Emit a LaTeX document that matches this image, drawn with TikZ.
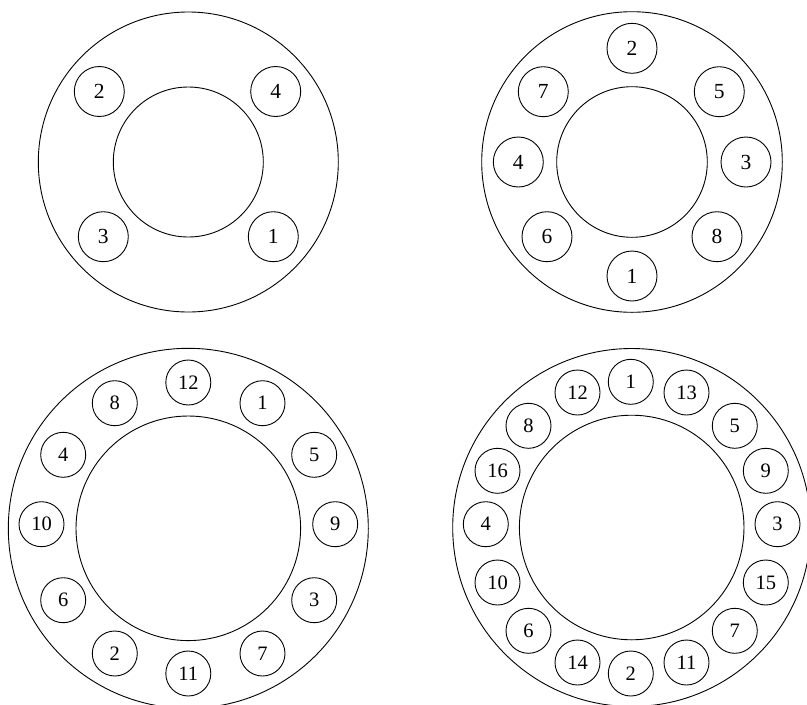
\documentclass[tikz,border=0pt]{standalone}
\usepackage{fontspec}
\setmainfont{Liberation Serif}
\begin{document}
\begin{tikzpicture}[x=1pt,y=-1pt,
  ring/.style={line width=0.9pt},
  bigpin/.style={draw,circle,line width=0.9pt,minimum size=50pt,inner sep=0pt,font=\fontsize{21.5}{25}\selectfont},
  smallpin/.style={draw,circle,line width=0.9pt,minimum size=45pt,inner sep=0pt,font=\fontsize{20.5}{24}\selectfont}]
\clip (0,0) rectangle (807,705);
\fill[white] (0,0) rectangle (807,705);
% top-left
\coordinate (A) at (188.3,162);
\draw[ring] (A) circle (150);
\draw[ring] (A) circle (75);
\node[bigpin] (a2) at (99.3,91.5) {2};
\node[bigpin] (a4) at (275.7,91.5) {4};
\node[bigpin] (a3) at (103.3,236.7) {3};
\node[bigpin] (a1) at (273.3,236.7) {1};
% top-right
\coordinate (B) at (632,162);
\draw[ring] (B) circle (150.3);
\draw[ring] (B) circle (75.3);
\node[bigpin] (b2) at (632,48.3) {2};
\node[bigpin] (b5) at (719.3,91.7) {5};
\node[bigpin] (b3) at (746,162) {3};
\node[bigpin] (b8) at (717,236.7) {8};
\node[bigpin] (b1) at (632,276) {1};
\node[bigpin] (b6) at (547,236.7) {6};
\node[bigpin] (b4) at (518.3,162) {4};
\node[bigpin] (b7) at (543.3,91.7) {7};
% bottom-left
\coordinate (C) at (188.3,528.3);
\draw[ring] (C) circle (180);
\draw[ring] (C) circle (112.3);
\node[smallpin] (c12) at (188.3,382.5) {12};
\node[smallpin] (c1) at (262.5,403.2) {1};
\node[smallpin] (c5) at (314.2,454.8) {5};
\node[smallpin] (c9) at (335.2,524.2) {9};
\node[smallpin] (c3) at (314.2,600.2) {3};
\node[smallpin] (c7) at (262.5,653.5) {7};
\node[smallpin] (c11) at (188.3,673.5) {11};
\node[smallpin] (c2) at (114.8,653.5) {2};
\node[smallpin] (c6) at (63.2,600.2) {6};
\node[smallpin] (c10) at (41.5,524.2) {10};
\node[smallpin] (c4) at (63.2,454.8) {4};
\node[smallpin] (c8) at (114.8,403.2) {8};
% bottom-right
\coordinate (D) at (631.7,527.5);
\draw[ring] (D) circle (179);
\draw[ring] (D) circle (112.3);
\node[smallpin] (d1) at (630.8,381.8) {1};
\node[smallpin] (d13) at (686.5,392.5) {13};
\node[smallpin] (d5) at (734.8,425.8) {5};
\node[smallpin] (d9) at (765.8,470.8) {9};
\node[smallpin] (d3) at (777.5,524.2) {3};
\node[smallpin] (d15) at (765.8,582.5) {15};
\node[smallpin] (d7) at (734.8,630.8) {7};
\node[smallpin] (d11) at (686.5,662.5) {11};
\node[smallpin] (d2) at (630.8,673.5) {2};
\node[smallpin] (d14) at (577.5,662.5) {14};
\node[smallpin] (d6) at (528.5,630.8) {6};
\node[smallpin] (d10) at (497.5,582.5) {10};
\node[smallpin] (d4) at (485.8,524.2) {4};
\node[smallpin] (d16) at (497.5,470.8) {16};
\node[smallpin] (d8) at (528.5,425.8) {8};
\node[smallpin] (d12) at (577.5,392.5) {12};
\end{tikzpicture}
\end{document}
